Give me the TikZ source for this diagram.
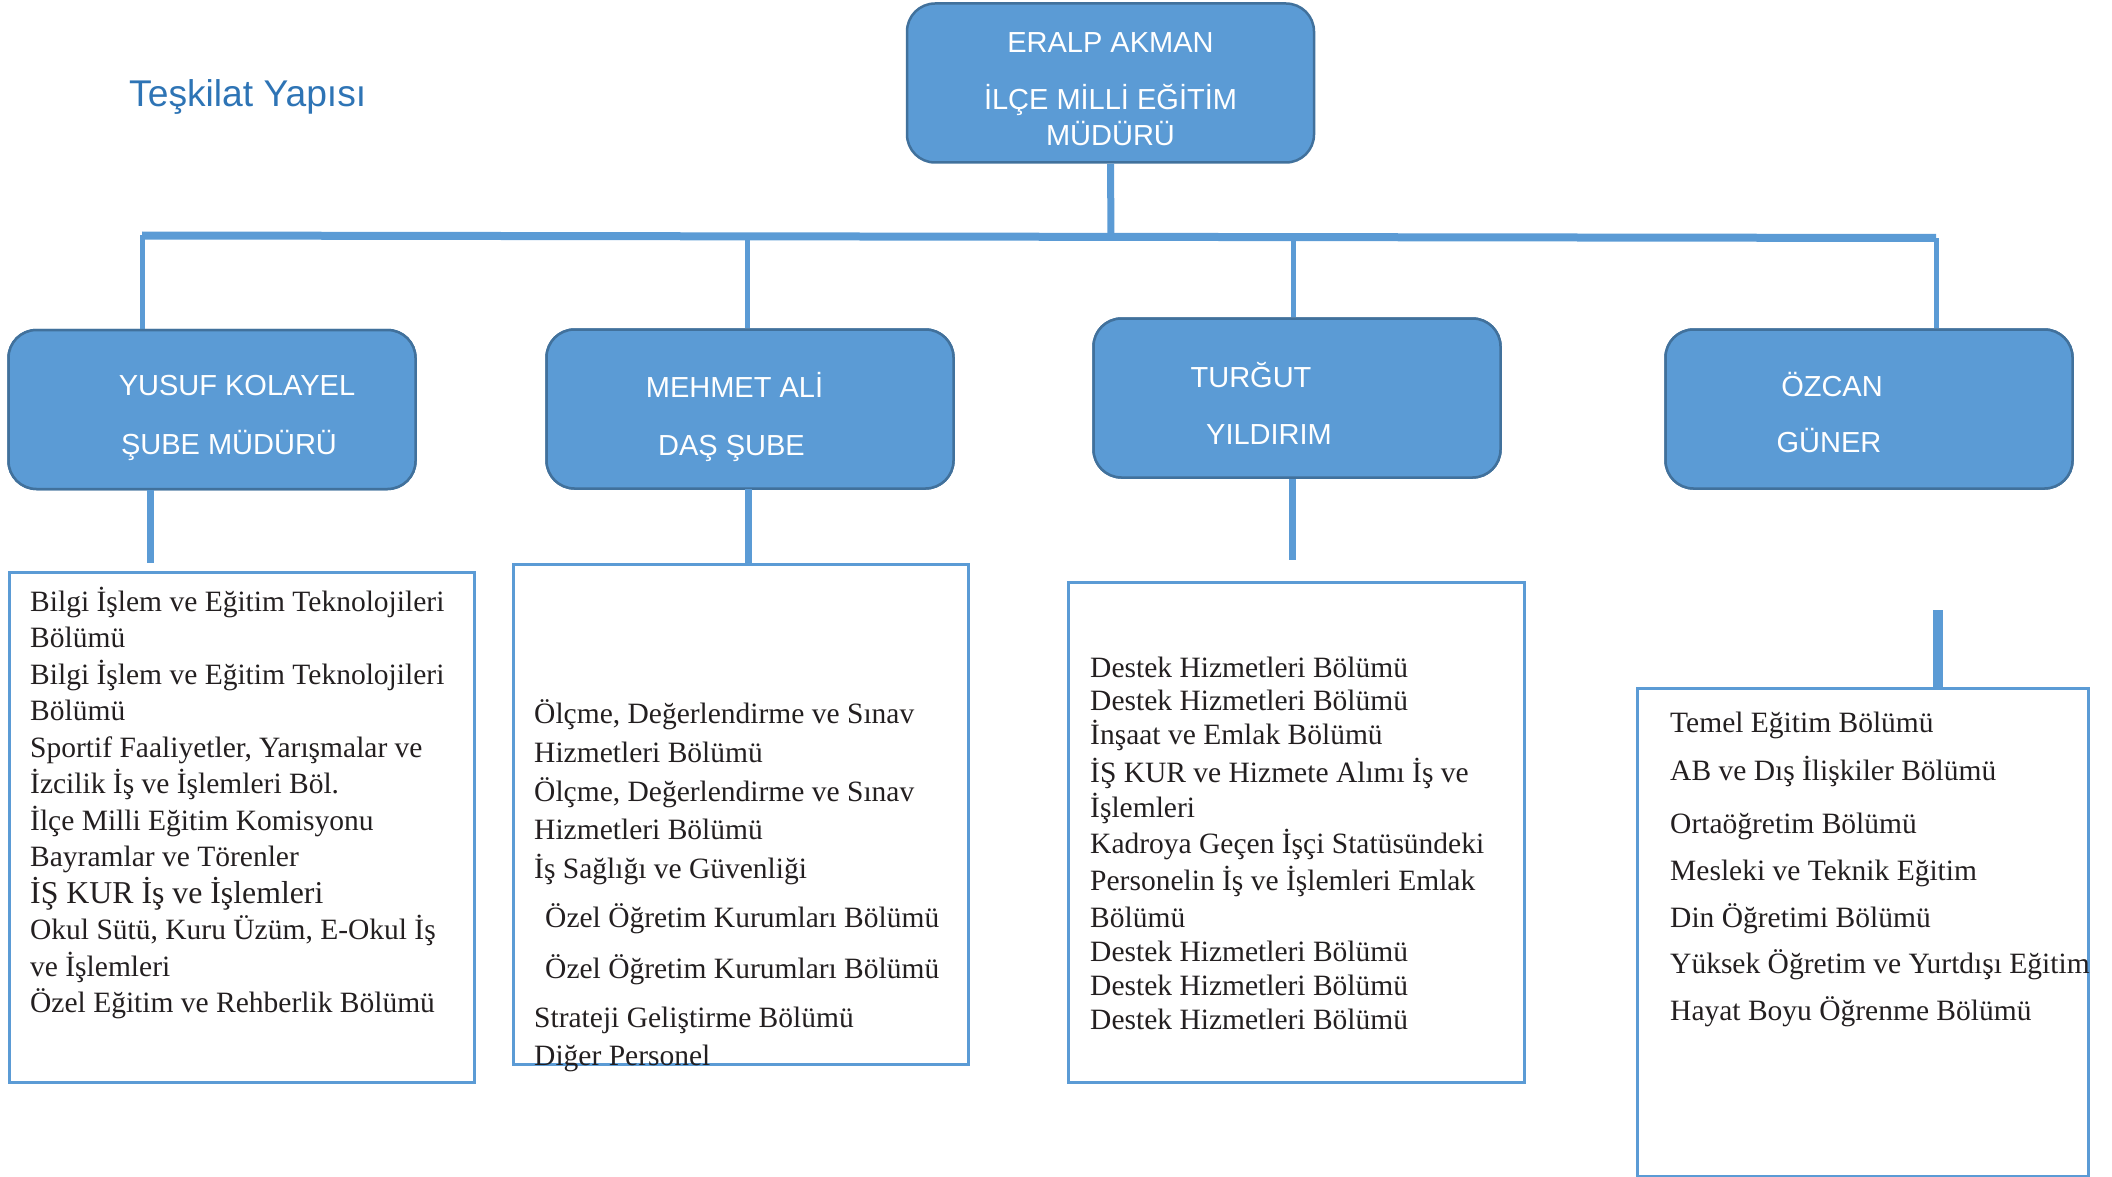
\documentclass[tikz,border=0pt]{standalone}
\usepackage{fontspec}
\setmainfont{Liberation Serif}
\newfontfamily\arialf{Liberation Sans}
\definecolor{boxblue}{HTML}{5B9BD5}
\definecolor{boxedge}{HTML}{41719C}
\definecolor{titleblue}{HTML}{2E74B5}
\definecolor{txtdark}{HTML}{231F20}
\tikzset{
  bluebox/.style={draw=boxedge, fill=boxblue, line width=2.5pt, rounded corners=28pt, inner sep=0pt, minimum width=407pt, minimum height=159pt},
  whitebox/.style={draw=boxblue, line width=3pt, inner sep=0pt},
  bluetxt/.style={text=white, font=\arialf\fontsize{29}{35}\selectfont, inner sep=0pt, anchor=base},
  listtxt/.style={text=txtdark, font=\fontsize{29.5}{35}\selectfont, inner sep=0pt, anchor=base west},
  barline/.style={draw=boxblue, line width=8pt},
  dropline/.style={draw=boxblue, line width=5pt},
  stemline/.style={draw=boxblue, line width=7pt}
}
\begin{document}
\begin{tikzpicture}[x=1pt,y=-1pt]
\useasboundingbox (0,0) rectangle (2112,1177);

% title
\node[text=titleblue, font=\arialf\fontsize{37.2}{42}\selectfont, inner sep=0pt, anchor=base west] (title) at (129,107) {Teşkilat Yapısı};

% connector coordinates
\coordinate (barL) at (142,235.5);
\coordinate (barR) at (1936,238);
\coordinate (barM) at (1111,236.5);
\coordinate (d2) at (747,236.5);
\coordinate (d3) at (1293,237);

% top box
\node[bluebox] (top) at (1110.5,83) {};
\node[bluetxt] (topa) at (1110.5,53) {ERALP AKMAN};
\node[bluetxt] (topb) at (1110.5,110) {İLÇE MİLLİ EĞİTİM};
\node[bluetxt] (topc) at (1110.5,146) {MÜDÜRÜ};

% level 2 boxes
\node[bluebox] (m1) at (212,409.5) {};
\node[bluebox] (m2) at (750,409) {};
\node[bluebox] (m3) at (1297,398) {};
\node[bluebox] (m4) at (1869,409) {};

\draw[stemline] (top.south) -- (barM);
\draw[barline] (barL) -- (barR);
\draw[dropline] (barL) -- (barL |- m1.north);
\draw[dropline] (d2) -- (d2 |- m2.north);
\draw[dropline] (d3) -- (d3 |- m3.north);
\draw[dropline] (barR) -- (barR |- m4.north);

% redraw boxes on top of drops
\node[bluebox] at (m1) {};
\node[bluebox] at (m2) {};
\node[bluebox] at (m3) {};
\node[bluebox] at (m4) {};

\node[bluetxt] (m1a) at (237,395) {YUSUF KOLAYEL};
\node[bluetxt] (m1b) at (229,454) {ŞUBE MÜDÜRÜ};
\node[bluetxt] (m2a) at (734.5,397) {MEHMET ALİ};
\node[bluetxt] (m2b) at (731.5,455) {DAŞ ŞUBE};
\node[bluetxt] (m3a) at (1251,387) {TURĞUT};
\node[bluetxt] (m3b) at (1269,444) {YILDIRIM};
\node[bluetxt] (m4a) at (1832,396) {ÖZCAN};
\node[bluetxt] (m4b) at (1829,452) {GÜNER};

% level 3 boxes
\node[whitebox, minimum width=465pt, minimum height=510pt] (wa) at (241.5,827) {};
\node[whitebox, minimum width=455pt, minimum height=500pt] (wb) at (740.5,814) {};
\node[whitebox, minimum width=456pt, minimum height=500pt] (wc) at (1296,832) {};
\node[whitebox, minimum width=451pt, minimum height=488pt] (wd) at (1862.5,932) {};

% level 2 -> 3 connectors
\coordinate (e1) at (150,563);
\coordinate (e3) at (1292,560);
\coordinate (s4t) at (1938,610);
\draw[stemline] (e1 |- m1.south) -- (e1);
\draw[stemline] (748,489) coordinate (s2) -- (s2 |- wb.north);
\draw[stemline] (e3 |- m3.south) -- (e3);
\draw[draw=boxblue, line width=10pt] (s4t) -- (s4t |- wd.north);

% box A text
\foreach \t [count=\i] in {
  {Bilgi İşlem ve Eğitim Teknolojileri},
  {Bölümü},
  {Bilgi İşlem ve Eğitim Teknolojileri},
  {Bölümü},
  {Sportif Faaliyetler, Yarışmalar ve},
  {İzcilik İş ve İşlemleri Böl.},
  {İlçe Milli Eğitim Komisyonu},
  {Bayramlar ve Törenler}} {
  \node[listtxt] (ta\i) at (30,{611+36.5*(\i-1)}) {\t};
}
\node[listtxt, font=\fontsize{31.8}{36}\selectfont] (ta9) at (30,903) {İŞ KUR İş ve İşlemleri};
\node[listtxt] (ta10) at (30,939.5) {Okul Sütü, Kuru Üzüm, E-Okul İş};
\node[listtxt] (ta11) at (30,976) {ve İşlemleri};
\node[listtxt] (ta12) at (30,1012.5) {Özel Eğitim ve Rehberlik Bölümü};

% box B text
\node[listtxt] (tb1) at (534,723) {Ölçme, Değerlendirme ve Sınav};
\node[listtxt] (tb2) at (534,762) {Hizmetleri Bölümü};
\node[listtxt] (tb3) at (534,801) {Ölçme, Değerlendirme ve Sınav};
\node[listtxt] (tb4) at (534,839) {Hizmetleri Bölümü};
\node[listtxt] (tb5) at (534,878) {İş Sağlığı ve Güvenliği};
\node[listtxt] (tb6) at (545,927) {Özel Öğretim Kurumları Bölümü};
\node[listtxt] (tb7) at (545,978) {Özel Öğretim Kurumları Bölümü};
\node[listtxt] (tb8) at (534,1027) {Strateji Geliştirme Bölümü};
\node[listtxt] (tb9) at (534,1065) {Diğer Personel};

% box C text
\node[listtxt] (tc1) at (1090,677) {Destek Hizmetleri Bölümü};
\node[listtxt] (tc2) at (1090,710) {Destek Hizmetleri Bölümü};
\node[listtxt] (tc3) at (1090,744) {İnşaat ve Emlak Bölümü};
\node[listtxt] (tc4) at (1090,782) {İŞ KUR ve Hizmete Alımı İş ve};
\node[listtxt] (tc5) at (1090,817) {İşlemleri};
\node[listtxt] (tc6) at (1090,853) {Kadroya Geçen İşçi Statüsündeki};
\node[listtxt] (tc7) at (1090,890) {Personelin İş ve İşlemleri Emlak};
\node[listtxt] (tc8) at (1090,927) {Bölümü};
\node[listtxt] (tc9) at (1090,961) {Destek Hizmetleri Bölümü};
\node[listtxt] (tc10) at (1090,995) {Destek Hizmetleri Bölümü};
\node[listtxt] (tc11) at (1090,1029) {Destek Hizmetleri Bölümü};

% box D text
\node[listtxt] (td1) at (1670,732) {Temel Eğitim Bölümü};
\node[listtxt] (td2) at (1670,780) {AB ve Dış İlişkiler Bölümü};
\node[listtxt] (td3) at (1670,833) {Ortaöğretim Bölümü};
\node[listtxt] (td4) at (1670,880) {Mesleki ve Teknik Eğitim};
\node[listtxt] (td5) at (1670,927) {Din Öğretimi Bölümü};
\node[listtxt] (td6) at (1670,973) {Yüksek Öğretim ve Yurtdışı Eğitim};
\node[listtxt] (td7) at (1670,1020) {Hayat Boyu Öğrenme Bölümü};
\end{tikzpicture}
\end{document}
